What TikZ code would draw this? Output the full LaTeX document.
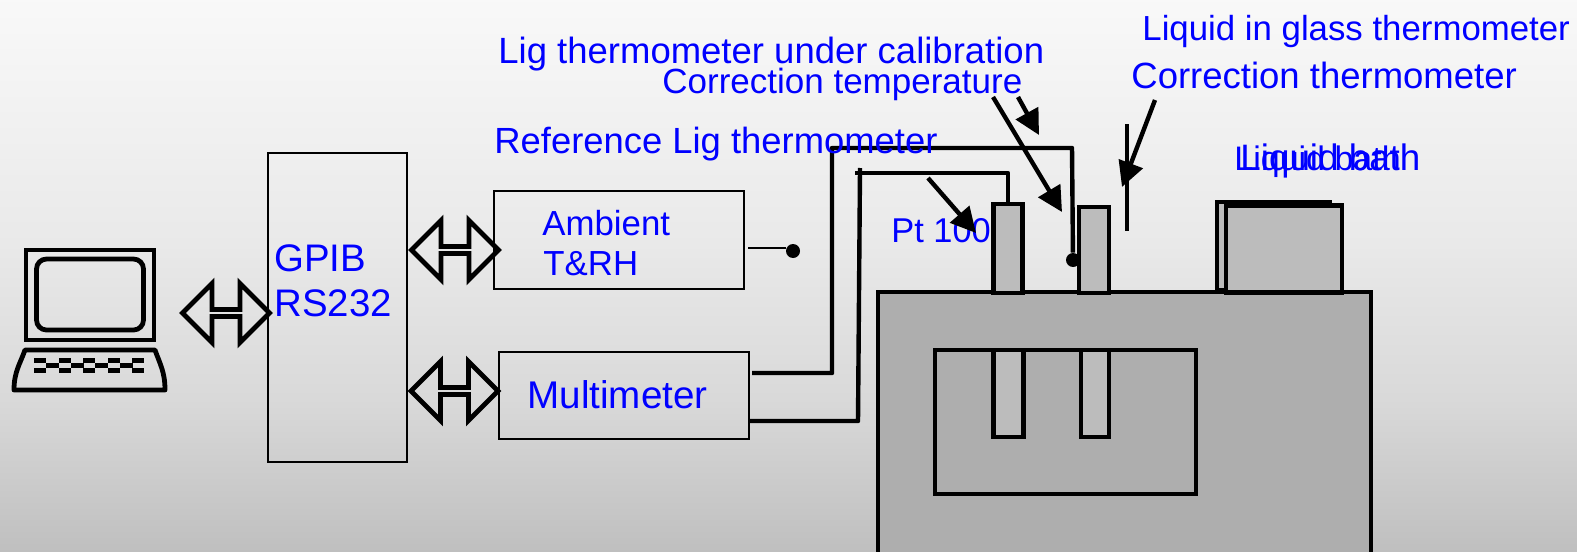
\documentclass[tikz,border=0pt]{standalone}
\usepackage{fontspec}
\setmainfont{Liberation Sans}
\usepackage{tikz}
\usetikzlibrary{shapes.arrows, arrows.meta}
\definecolor{labelblue}{RGB}{0,0,255}
\definecolor{bathgray}{RGB}{174,174,174}
\definecolor{probegray}{RGB}{188,188,188}
\pgfdeclareverticalshading{bgshade}{100bp}{rgb(0bp)=(0.75,0.75,0.75); rgb(25bp)=(0.75,0.75,0.75); rgb(38.7bp)=(0.85,0.85,0.85); rgb(53.2bp)=(0.915,0.915,0.915); rgb(75bp)=(0.975,0.975,0.975); rgb(100bp)=(0.975,0.975,0.975)}

\begin{document}
\begin{tikzpicture}[
    x=0.5pt, y=-0.5pt,
    lbl/.style={font=\fontsize{#1}{20}\selectfont, text=labelblue, anchor=base west, inner sep=0pt},
    lbl/.default=17.4,
    box/.style={rectangle, draw, line width=1pt, inner sep=0pt, outer sep=0pt},
    solid box/.style={rectangle, draw, line width=2.4pt, fill=#1, inner sep=0pt, outer sep=0pt},
    dblarr/.style={double arrow, draw, line width=2.4pt, inner sep=0pt, outer sep=0pt, minimum height=43.5pt, minimum width=29.5pt,
        double arrow head extend=9pt, double arrow tip angle=90},
    wire/.style={line width=2.2pt, line join=round},
    ptr/.style={-{Triangle[length=12.5pt, width=12.5pt]}, line width=2.2pt}
]
% Background
\shade[shading=bgshade] (0,0) rectangle (1577,551);
\useasboundingbox (0,0) rectangle (1577,551);

% Computer
\node[solid box=none, minimum width=64pt, minimum height=45pt] (screen) at (90,295) {};
\node[solid box=none, rounded corners=5pt, minimum width=53.5pt, minimum height=35.5pt] (glass) at (90,294.5) {};
\draw[line width=2.4pt, line join=round] (25,350) -- (155,350) .. controls (160,364) and (165,372) .. (165,390) -- (14,390) .. controls (14,372) and (20,364) .. (25,350) -- cycle;
\foreach \kx in {34,59,83,108,132} {
    \fill (\kx,358) rectangle +(12,5);
    \fill (\kx,368) rectangle +(12,5);
}
\foreach \kx in {46,71,95,120} {
    \fill (\kx,363) rectangle +(13,5);
}

% Instruments
\node[box, minimum width=69.5pt, minimum height=154.5pt] (gpib) at (337,307.5) {};
\node[box, minimum width=125pt, minimum height=49pt] (ambient) at (619,240) {};
\node[box, minimum width=125pt, minimum height=43.5pt] (multi) at (624,395.5) {};
\node[lbl=19.2] (gpibtxt) at (274,271) {GPIB};
\node[lbl=19.2] (rstxt) at (274,316) {RS232};
\node[lbl] (ambtxt) at (542,235) {Ambient};
\node[lbl] (trhtxt) at (543,275) {T\&RH};
\node[lbl=19.3] (multitxt) at (527,408) {Multimeter};

\node[dblarr] (pcarr) at (226,313) {};
\node[dblarr] (ambarr) at (455,250) {};
\node[dblarr] (mularr) at (454.5,391) {};

% Ambient sensor
\coordinate (ambout) at (748,248);
\node[circle, fill, inner sep=0pt, minimum size=7pt] (ambdot) at (793,251) {};
\draw[line width=1pt] (ambout) -- (ambdot.west |- ambout);

% Bath
\node[solid box=bathgray, minimum width=246.5pt, minimum height=140pt, anchor=north west] (bath) at (878,292) {};
\node[solid box=probegray, minimum width=56.5pt, minimum height=44pt] (backlid) at (1273.5,246) {};
\node[solid box=probegray, minimum width=58pt, minimum height=43.5pt] (frontlid) at (1284,249) {};
\node[solid box=bathgray, minimum width=130.5pt, minimum height=72pt, anchor=north west] (well) at (935,350) {};
\node[solid box=probegray, minimum width=15pt, minimum height=43.5pt, anchor=north west] (wellA) at (993.5,350) {};
\node[solid box=probegray, minimum width=14pt, minimum height=43.5pt, anchor=north west] (wellB) at (1081,350) {};

% Wires
\coordinate (mulouta) at (752,373);
\coordinate (muloutb) at (750,421);
\node[circle, fill, inner sep=0pt, minimum size=7pt] (wiredot) at (1073,260) {};
\draw[wire] (mulouta) -- (832,373) -- (832,148) -- (1072,148) -- (wiredot);
\node[solid box=probegray, minimum width=14.5pt, minimum height=44.5pt, anchor=north west] (probeA) at (993.5,204) {};
\node[solid box=probegray, minimum width=15pt, minimum height=43pt, anchor=north west] (probeB) at (1079,207) {};
\draw[wire] (muloutb) -- (858,421) -- (860,168);
\draw[wire] (855,173) -| (probeA.north);

% Liquid in glass stem
\coordinate (stemtop) at (1127,124);
\coordinate (stembot) at (1127,231);
\draw[wire] (stemtop) -- (stembot);

% Labels
\node[lbl] (lqglass) at (1142,41) {Liquid in glass thermometer};
\node[lbl=18.25] (ligcal) at (498,63.5) {Lig thermometer under calibration};
\node[lbl=17.5] (corrtemp) at (662,94) {Correction temperature};
\node[lbl=18.25] (corrtherm) at (1131,88.5) {Correction thermometer};
\node[lbl=18.2] (refther) at (494,153) {Reference Lig thermometer};
\node[lbl=17.2] (pt) at (891,242) {Pt 100};
\node[lbl=17] (bathA) at (1234,170) {Liquid bath};
\node[lbl=18.4] (bathB) at (1240,170) {Liquid bath};

% Pointers
\coordinate (ptrAs) at (928,178);
\coordinate (ptrAe) at (976,233);
\coordinate (ptrBs) at (993,97);
\coordinate (ptrBe) at (1062,212);
\coordinate (ptrCs) at (1018,97);
\coordinate (ptrCe) at (1039,135);
\coordinate (ptrDs) at (1155,100);
\coordinate (ptrDe) at (1122,187);
\draw[ptr] (ptrAs) -- (ptrAe);
\draw[ptr] (ptrBs) -- (ptrBe);
\draw[ptr] (ptrCs) -- (ptrCe);
\draw[ptr] (ptrDs) -- (ptrDe);
\end{tikzpicture}
\end{document}
